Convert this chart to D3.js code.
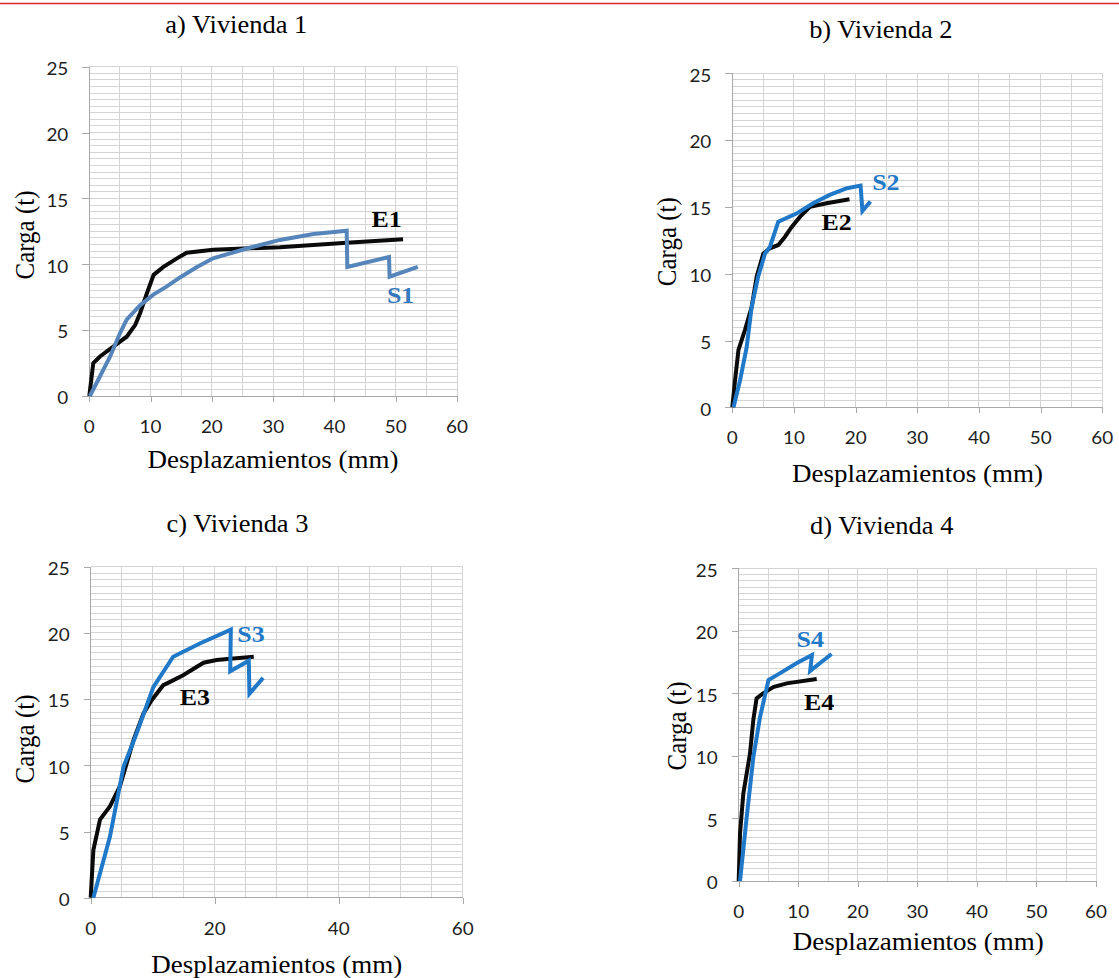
<!DOCTYPE html>
<html>
<head>
<meta charset="utf-8">
<script src="https://cdn.jsdelivr.net/npm/d3@7"></script>
<style>
  html, body { margin: 0; padding: 0; background: #fff; }
  svg { display: block; }
</style>
</head>
<body>
<svg id="chart" width="1119" height="978"></svg>
<script>
// ---------------- DATA ----------------
const panelTitles = ["a) Vivienda 1", "b) Vivienda 2", "c) Vivienda 3", "d) Vivienda 4"];
const xTicksFine = [0, 10, 20, 30, 40, 50, 60];
const xTicksCoarse = [0, 20, 40, 60];
const yTicks = [0, 5, 10, 15, 20, 25];
const xTitle = "Desplazamientos (mm)";
const yTitle = "Carga (t)";

// [desplazamiento (mm), carga (t)]
const E1 = [[0,0],[0.65,2.5],[1.75,3.0],[3.9,3.75],[6.1,4.5],[7.5,5.4],[8.3,6.3],[9.4,7.8],[10.5,9.2],[12.1,9.8],[14.3,10.45],[15.9,10.88],[20.2,11.1],[31.1,11.3],[42,11.64],[51.2,11.9]];
const S1 = [[0.1,0],[1.75,1.5],[3.4,3.0],[5.0,4.76],[6.1,5.8],[8.3,6.9],[10.45,7.7],[12.6,8.3],[14.8,9.0],[17.5,9.77],[20.2,10.45],[25.7,11.2],[31.1,11.85],[36.6,12.3],[42,12.55],[42.1,9.8],[48.9,10.55],[49.0,9.06],[53.6,9.8]];
const E2 = [[0,0],[0.44,2.0],[1.0,4.3],[2.06,5.8],[3.14,7.5],[3.96,9.8],[5.03,11.5],[6.1,11.9],[7.46,12.15],[8.55,12.77],[9.63,13.5],[11.0,14.27],[12.6,15.0],[15.3,15.27],[19.0,15.57]];
const S2 = [[0.2,0],[1.25,2.0],[2.33,4.5],[3.14,7.5],[4.2,9.8],[5.3,11.5],[6.1,12.0],[7.46,13.9],[10.4,14.5],[13.1,15.27],[15.8,15.9],[18.6,16.4],[20.8,16.6],[21.1,14.7],[22.4,15.4]];
const E3 = [[0,0],[0.43,3.6],[1.5,5.9],[3.1,6.9],[4.7,8.4],[5.8,10.15],[6.9,11.9],[8.5,13.9],[9.8,14.9],[11.7,16.05],[12.8,16.3],[14.9,16.8],[18.2,17.75],[20.3,17.95],[23.0,18.07],[26.3,18.2]];
const S3 = [[0.43,0],[3.1,4.6],[5.3,9.9],[7.4,12.4],[10.1,15.9],[13.3,18.2],[17.6,19.2],[22.6,20.25],[22.5,17.1],[25.5,17.9],[25.6,15.4],[27.8,16.6]];
const E4 = [[0,0],[0.22,3.8],[0.78,7.0],[1.9,10.2],[2.46,12.9],[3.0,14.6],[4.1,15.0],[5.8,15.5],[8.06,15.8],[13.1,16.15]];
const S4 = [[0.22,0],[1.34,5.1],[2.46,9.9],[3.58,13.1],[5.0,16.07],[6.9,16.6],[9.7,17.4],[12.3,18.07],[12.0,16.8],[15.6,18.15]];

// series names and label anchor points (data units)
const expNames = ["E1", "E2", "E3", "E4"];
const simNames = ["S1", "S2", "S3", "S4"];
const expLabelAt = [[48.5,12.86],[16.9,13.27],[16.8,14.55],[13.5,13.67]];
const simLabelAt = [[50.8,7.06],[24.9,16.26],[25.85,19.33],[12.0,18.73]];

// ---------------- LAYOUT ----------------
const layout = [
  {l: 89.3, r: 457, t: 66.7, b: 396, xt: xTicksFine,
   title: [236.3, 32.7], xlab: [273, 468.3], ylab: [25, 235]},
  {l: 732.3, r: 1102.3, t: 73.3, b: 407.3, xt: xTicksFine,
   title: [880.8, 38.3], xlab: [917.5, 481.7], ylab: [666.7, 241.7]},
  {l: 90.7, r: 462.7, t: 566.7, b: 897.7, xt: xTicksCoarse,
   title: [237.5, 532.3], xlab: [276.7, 973.3], ylab: [25, 739]},
  {l: 738.7, r: 1096, t: 568.3, b: 881, xt: xTicksFine,
   title: [881.7, 534.3], xlab: [918.3, 950], ylab: [676.7, 726]}
];
const expSeries = [E1, E2, E3, E4];
const simSeries = [S1, S2, S3, S4];
const simColors = ["#5585ba", "#1f78c8", "#1f78c8", "#1f78c8"];
const simLabelColors = ["#3479bd", "#1f78c8", "#1f78c8", "#1f78c8"];
const SX = 1.08; // horizontal stretch of the reference text
const SERIF = "'Liberation Serif', 'Times New Roman', Times, serif";
const SANS = "Lato, 'Open Sans', 'Liberation Sans', sans-serif";

const svg = d3.select("#chart");
svg.append("rect").attr("width", 1119).attr("height", 978).attr("fill", "#fff");
svg.append("line").attr("x1", 0).attr("x2", 1119).attr("y1", 3.5).attr("y2", 3.5)
  .attr("stroke", "#e3262c").attr("stroke-width", 1.3);

function stretchedText(g, x, y, txt, opts) {
  const t = g.append("text")
    .attr("transform", `translate(${x},${y}) scale(${SX},1)` + (opts.rotate ? " rotate(-90)" : ""))
    .attr("text-anchor", opts.anchor || "middle")
    .attr("font-family", opts.family)
    .attr("font-size", opts.size)
    .attr("font-weight", opts.weight || "normal")
    .attr("fill", opts.fill || "#000")
    .text(txt);
  if (opts.baseline) t.attr("dominant-baseline", opts.baseline);
  return t;
}

layout.forEach((p, i) => {
  const x = d3.scaleLinear().domain([0, 60]).range([p.l, p.r]);
  const y = d3.scaleLinear().domain([0, 25]).range([p.b, p.t]);
  const g = svg.append("g");

  // gridlines
  const grid = g.append("g").attr("stroke", "#d4d4d4").attr("stroke-width", 1).attr("shape-rendering", "crispEdges");
  grid.selectAll(".h").data(d3.range(0.5, 25.01, 0.5)).join("line")
    .attr("x1", p.l).attr("x2", p.r).attr("y1", d => y(d)).attr("y2", d => y(d));
  grid.selectAll(".v").data(d3.range(5, 60.01, 5)).join("line")
    .attr("y1", p.t).attr("y2", p.b).attr("x1", d => x(d)).attr("x2", d => x(d));

  // axes
  const ya = g.append("g").attr("transform", `translate(${p.l},0)`)
    .call(d3.axisLeft(y).tickValues(yTicks).tickSize(7).tickFormat(""));
  const xa = g.append("g").attr("transform", `translate(0,${p.b})`)
    .call(d3.axisBottom(x).tickValues(p.xt).tickSize(6).tickFormat(""));
  [ya, xa].forEach(a => {
    a.selectAll("path, line").attr("stroke", "#a8a8a8").attr("stroke-width", 1).attr("shape-rendering", "crispEdges");
  });
  ya.select("path").attr("d", `M0,${p.b}V${p.t}`);
  xa.select("path").attr("d", `M${p.l},0H${p.r}`);

  // tick labels
  yTicks.forEach(v => stretchedText(g, p.l - 21, y(v) + 1.5, String(v),
    {anchor: "end", family: SANS, size: 17.5, fill: "#1e1e1e", baseline: "central"}));
  p.xt.forEach(v => stretchedText(g, x(v), p.b + 37, String(v),
    {family: SANS, size: 17.5, fill: "#1e1e1e"}));

  // titles
  stretchedText(g, p.title[0], p.title[1], panelTitles[i], {family: SERIF, size: 24.5});
  stretchedText(g, p.xlab[0], p.xlab[1], xTitle, {family: SERIF, size: 25});
  stretchedText(g, p.ylab[0], p.ylab[1], yTitle, {family: SERIF, size: 25, rotate: true, baseline: "central"});

  // curves
  const line = d3.line().x(d => x(d[0])).y(d => y(d[1]));
  g.append("path").datum(expSeries[i]).attr("d", line)
    .attr("fill", "none").attr("stroke", "#0a0a0a").attr("stroke-width", 4)
    .attr("stroke-linejoin", "miter").attr("stroke-linecap", "butt");
  g.append("path").datum(simSeries[i]).attr("d", line)
    .attr("fill", "none").attr("stroke", simColors[i]).attr("stroke-width", 4)
    .attr("stroke-linejoin", "miter").attr("stroke-linecap", "butt");

  // series labels
  stretchedText(g, x(expLabelAt[i][0]), y(expLabelAt[i][1]), expNames[i],
    {family: SERIF, size: 24, weight: "bold", fill: "#000"});
  stretchedText(g, x(simLabelAt[i][0]), y(simLabelAt[i][1]), simNames[i],
    {family: SERIF, size: 24, weight: "bold", fill: simLabelColors[i]});
});
</script>
</body>
</html>
